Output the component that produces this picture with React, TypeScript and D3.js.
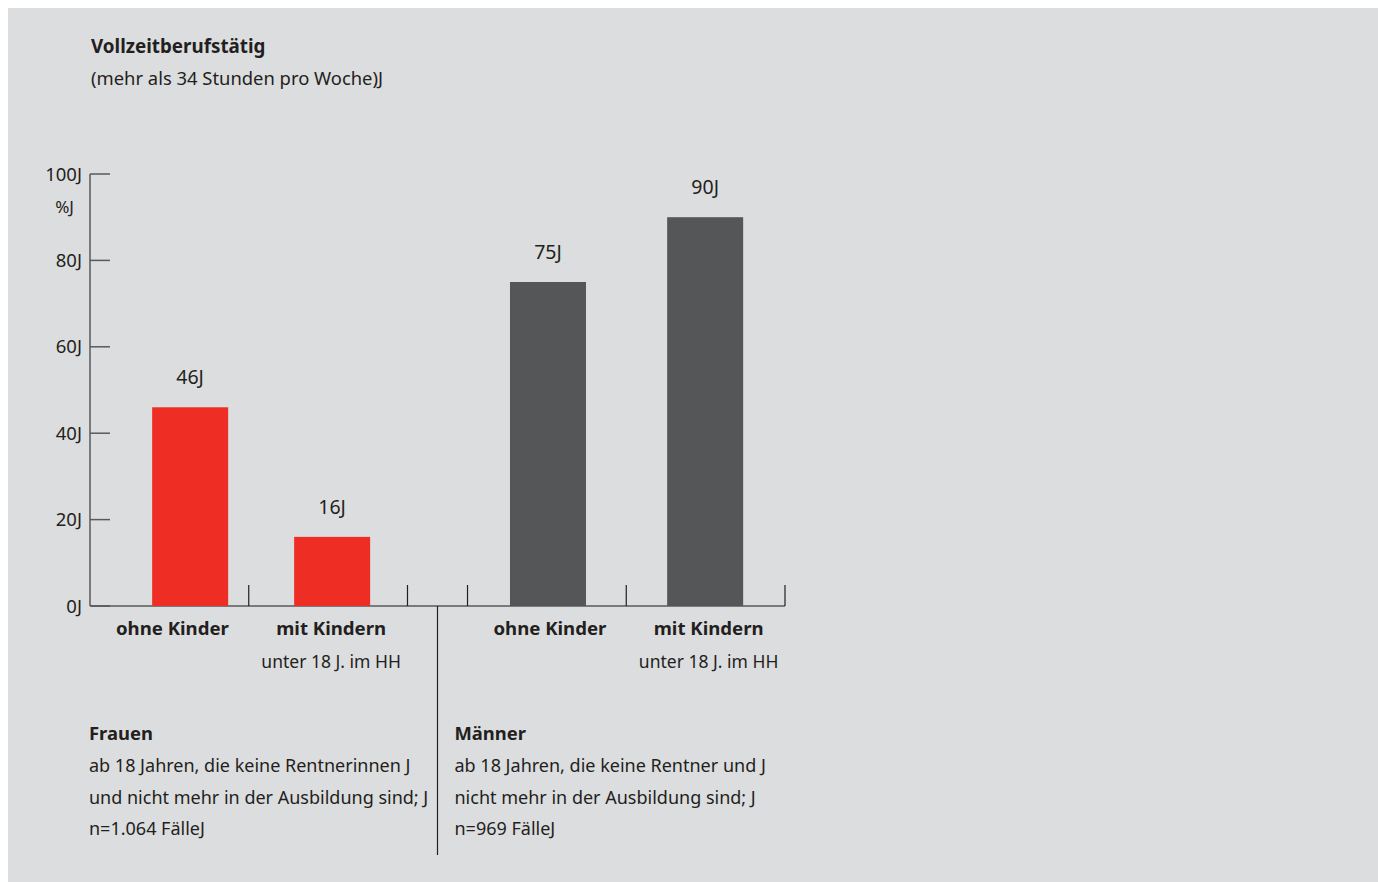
import { useEffect, useRef } from "react";
import * as d3 from "d3";

// Data
const groups = ["Frauen", "Männer"];
const categories = ["ohne Kinder", "mit Kindern"];
const categorySubLabels = ["", "unter 18 J. im HH"];
const frauenValues = [46, 16];
const maennerValues = [75, 90];
const yTicks = [0, 20, 40, 60, 80, 100];
const frauenNotes = [
  "ab 18 Jahren, die keine Rentnerinnen J",
  "und nicht mehr in der Ausbildung sind; J",
  "n=1.064 FälleJ",
];
const maennerNotes = [
  "ab 18 Jahren, die keine Rentner und J",
  "nicht mehr in der Ausbildung sind; J",
  "n=969 FälleJ",
];
const title = "Vollzeitberufstätig";
const subtitle = "(mehr als 34 Stunden pro Woche)J";
const unitLabel = "%J";

const W = 1378;
const H = 882;
const BG = "#dcdddf";
const INK = "#231f20";
const AXIS = "#58595b";
const COLORS = ["#ee2e24", "#555658"];
const FONT = "'Noto Sans', sans-serif";

export default function App() {
  const svgRef = useRef<SVGSVGElement>(null);

  useEffect(() => {
    // the grey panel bleeds off the right and bottom edges
    document.documentElement.style.overflow = "hidden";
    document.documentElement.style.background = BG;
    if (!svgRef.current) return;
    const svg = d3.select(svgRef.current);
    svg.selectAll("*").remove();

    svg.append("rect").attr("width", W).attr("height", H).attr("fill", "#fff");
    svg.append("rect").attr("x", 8).attr("y", 8).attr("width", W - 8).attr("height", H - 8).attr("fill", BG);

    const g = svg.append("g").attr("font-family", FONT).attr("fill", INK);

    // Title
    g.append("text").attr("x", 91).attr("y", 53)
      .attr("font-size", 18.8).attr("font-weight", 700).text(title);
    g.append("text").attr("x", 91).attr("y", 85)
      .attr("font-size", 18.4).text(subtitle);

    const x0 = 90, x1 = 785, baseY = 606;
    const y = d3.scaleLinear().domain([0, 100]).range([baseY, 174]);

    // Y axis
    g.append("line").attr("x1", x0).attr("x2", x0).attr("y1", y(100)).attr("y2", baseY)
      .attr("stroke", AXIS).attr("stroke-width", 1.5);
    const yt = g.append("g").selectAll("g").data(yTicks).join("g")
      .attr("transform", (d) => `translate(0,${y(d)})`);
    yt.append("line").attr("x1", x0).attr("x2", x0 + 20).attr("stroke", AXIS).attr("stroke-width", 1.5);
    yt.append("text").attr("x", x0 - 8).attr("dy", "0.36em").attr("text-anchor", "end")
      .attr("font-size", 18.5).text((d) => `${d}J`);
    g.append("text").attr("x", 74).attr("y", y(100) + 39).attr("text-anchor", "end")
      .attr("font-size", 17).text(unitLabel);

    // X baseline
    g.append("line").attr("x1", x0).attr("x2", x1).attr("y1", baseY).attr("y2", baseY)
      .attr("stroke", AXIS).attr("stroke-width", 1.5);

    const outer = d3.scaleBand<string>().domain(groups).range([x0, x1]).paddingInner(0.159);
    const bw = outer.bandwidth();
    const barW = 76;
    const barLayout = [
      { paddingOuter: 0.118, align: 0.87 },
      { paddingOuter: 0.01, align: 0.6 },
    ];
    const values = [frauenValues, maennerValues];

    groups.forEach((grp, gi) => {
      const gx = outer(grp)!;
      const inner = d3.scaleBand<string>().domain(categories).range([gx, gx + bw])
        .paddingOuter(barLayout[gi].paddingOuter).align(barLayout[gi].align);
      const slot = d3.scaleBand<string>().domain(categories).range([gx, gx + bw]);

      // category ticks
      const tickXs = [gx, gx + bw / 2, gx + bw].filter((t) => Math.abs(t - x0) > 1);
      g.append("g").selectAll("line").data(tickXs).join("line")
        .attr("x1", (d) => d).attr("x2", (d) => d)
        .attr("y1", baseY).attr("y2", baseY - 21)
        .attr("stroke", INK).attr("stroke-width", 1.2);

      const data = categories.map((c, i) => ({ c, v: values[gi][i], sub: categorySubLabels[i] }));

      g.append("g").selectAll("rect").data(data).join("rect")
        .attr("x", (d) => inner(d.c)! + inner.bandwidth() / 2 - barW / 2)
        .attr("width", barW)
        .attr("y", (d) => y(d.v))
        .attr("height", (d) => baseY - y(d.v))
        .attr("fill", COLORS[gi]);

      g.append("g").selectAll("text").data(data).join("text")
        .attr("x", (d) => inner(d.c)! + inner.bandwidth() / 2)
        .attr("y", (d) => y(d.v) - 23)
        .attr("text-anchor", "middle").attr("font-size", 19.5)
        .text((d) => `${d.v}J`);

      const lab = g.append("g").selectAll("g").data(data).join("g")
        .attr("transform", (d) => `translate(${slot(d.c)! + slot.bandwidth() / 2 + 3},0)`);
      lab.append("text").attr("y", 635).attr("text-anchor", "middle")
        .attr("font-size", 18.6).attr("font-weight", 700).text((d) => d.c);
      lab.append("text").attr("y", 668).attr("text-anchor", "middle")
        .attr("font-size", 17.5).text((d) => d.sub);
    });

    // separator between groups
    const sepX = (outer("Frauen")! + bw + outer("Männer")!) / 2;
    g.append("line").attr("x1", sepX).attr("x2", sepX).attr("y1", baseY).attr("y2", 855)
      .attr("stroke", INK).attr("stroke-width", 1.2);

    // group notes
    const notes = [frauenNotes, maennerNotes];
    const noteX = [89, sepX + 17];
    groups.forEach((grp, gi) => {
      g.append("text").attr("x", noteX[gi]).attr("y", 740)
        .attr("font-size", 18.4).attr("font-weight", 700).text(grp);
      g.append("g").selectAll("text").data(notes[gi]).join("text")
        .attr("x", noteX[gi]).attr("y", (_, i) => 772 + i * 31.5)
        .attr("font-size", 18).text((d) => d);
    });
  }, []);

  return (
    <svg ref={svgRef} width={W} height={H}
      style={{ position: "fixed", left: 0, top: 0, display: "block" }} />
  );
}
